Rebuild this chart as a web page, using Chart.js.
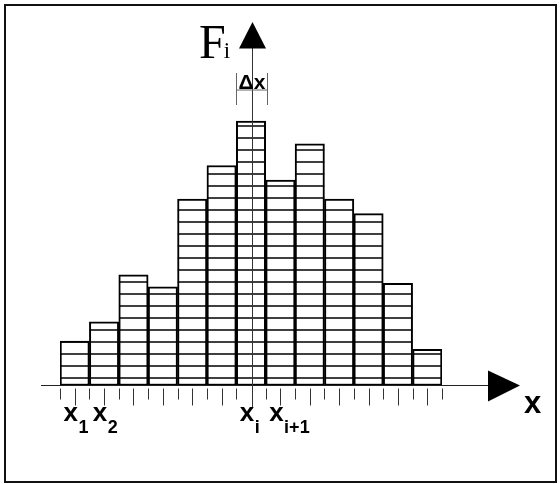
<!DOCTYPE html>
<html>
<head>
<meta charset="utf-8">
<title>Histogram F_i</title>
<script src="https://cdn.jsdelivr.net/npm/chart.js@4/dist/chart.umd.min.js"></script>
<style>
  html, body { margin: 0; padding: 0; background: #fff; }
  canvas { display: block; }
</style>
</head>
<body>
<canvas id="histo" width="560" height="484"></canvas>
<script>
// bins of the histogram, one bar each
var bins = ['b1', 'b2', 'b3', 'b4', 'b5', 'b6', 'b7', 'b8', 'b9', 'b10', 'b11', 'b12', 'b13'];
// bar heights, in units of the little horizontal cells
var counts = [3.7, 5.3, 9.2, 8.2, 15.5, 18.3, 22.0, 17.1, 20.1, 15.5, 14.3, 8.5, 3.0];
// labelled points on the x axis: which bin, main letter, subscript
var tickBins = [0, 1, 6, 7];
var tickMain = ['x', 'x', 'x', 'x'];
var tickSub = ['1', '2', 'i', 'i+1'];
var yTitle = 'F', yTitleSub = 'i';
var xTitle = 'x';
var widthLabel = '\u0394x';
var widthBin = 6;

var Y_MAX = 25;
var CELL_START = 0.6; // first cell line above the base

function arrow(ctx, pts) {
  ctx.beginPath();
  ctx.moveTo(pts[0], pts[1]);
  ctx.lineTo(pts[2], pts[3]);
  ctx.lineTo(pts[4], pts[5]);
  ctx.closePath();
  ctx.fill();
}

var sketch = {
  id: 'sketch',
  afterDatasetsDraw: function (chart) {
    var ctx = chart.ctx;
    var ys = chart.scales.y;
    var meta = chart.getDatasetMeta(0);
    ctx.save();
    ctx.strokeStyle = '#000';
    ctx.lineWidth = 1.6;
    meta.data.forEach(function (bar, i) {
      var half = bar.width / 2;
      ctx.save();
      ctx.beginPath();
      ctx.rect(bar.x - half, bar.y, bar.width, bar.base - bar.y);
      ctx.clip();
      for (var v = CELL_START; v < counts[i]; v += 1) {
        var py = Math.round(ys.getPixelForValue(v));
        ctx.beginPath();
        ctx.moveTo(bar.x - half, py);
        ctx.lineTo(bar.x + half, py);
        ctx.stroke();
      }
      ctx.restore();
    });
    ctx.restore();
  },
  afterDraw: function (chart) {
    var ctx = chart.ctx;
    var xs = chart.scales.x;
    var ys = chart.scales.y;
    var base = ys.getPixelForValue(0);
    var bw = xs.getPixelForValue(1) - xs.getPixelForValue(0);
    var n = bins.length;
    var left = xs.getPixelForValue(0) - bw / 2;

    ctx.save();
    // frame
    ctx.strokeStyle = '#111';
    ctx.lineWidth = 2;
    ctx.strokeRect(5, 5, 551, 477);

    // x axis
    ctx.strokeStyle = '#222';
    ctx.lineWidth = 1.2;
    ctx.beginPath();
    ctx.moveTo(41, base);
    ctx.lineTo(490, base);
    ctx.stroke();
    ctx.fillStyle = '#000';
    arrow(ctx, [488, base - 15, 520, base, 488, base + 16]);

    // ticks: short ones at bin edges, long ones at bin centres
    ctx.strokeStyle = '#333';
    ctx.lineWidth = 1;
    for (var k = 0; k <= n; k++) {
      var ex = Math.round(left + k * bw) + 0.5;
      ctx.beginPath();
      ctx.moveTo(ex, base + 3);
      ctx.lineTo(ex, base + 14);
      ctx.stroke();
      if (k < n && k !== widthBin) {
        var cx = Math.round(xs.getPixelForValue(k)) + 0.5;
        ctx.beginPath();
        ctx.moveTo(cx, base + 3);
        ctx.lineTo(cx, base + 20);
        ctx.stroke();
      }
    }

    // y axis through the centre of the Δx bin
    var ax = Math.round(xs.getPixelForValue(widthBin)) + 1.5;
    ctx.strokeStyle = '#333';
    ctx.beginPath();
    ctx.moveTo(ax, 46);
    ctx.lineTo(ax, base + 23);
    ctx.stroke();
    arrow(ctx, [ax - 13.5, 48.5, ax, 22, ax + 13.5, 48.5]);

    // F_i
    ctx.fillStyle = '#000';
    ctx.textBaseline = 'alphabetic';
    ctx.textAlign = 'left';
    ctx.font = '48px "Liberation Serif", serif';
    ctx.fillText(yTitle, 199, 58);
    var fw = ctx.measureText(yTitle).width;
    ctx.font = '23px "Liberation Serif", serif';
    ctx.fillText(yTitleSub, 199 + fw - 2, 58);

    // Δx bracket
    var bl = Math.round(xs.getPixelForValue(widthBin) - bw / 2) + 0.5;
    var br = Math.round(xs.getPixelForValue(widthBin) + bw / 2) + 1.5;
    ctx.strokeStyle = '#666';
    ctx.lineWidth = 1;
    ctx.beginPath();
    ctx.moveTo(bl, 73); ctx.lineTo(bl, 105);
    ctx.moveTo(br, 73); ctx.lineTo(br, 105);
    ctx.moveTo(bl, 90); ctx.lineTo(br, 90);
    ctx.stroke();
    ctx.font = 'bold 21px "Liberation Sans", Arial, sans-serif';
    ctx.textAlign = 'center';
    ctx.fillText(widthLabel, (bl + br) / 2, 89);

    // x axis labels
    tickBins.forEach(function (b, i) {
      var cx = xs.getPixelForValue(b) - 4;
      ctx.font = 'bold 26px "Liberation Sans", Arial, sans-serif';
      ctx.textAlign = 'center';
      ctx.fillText(tickMain[i], cx, 421);
      var mw = ctx.measureText(tickMain[i]).width;
      ctx.font = 'bold 18px "Liberation Sans", Arial, sans-serif';
      ctx.textAlign = 'left';
      ctx.fillText(tickSub[i], cx + mw / 2 + 0.5, 433);
    });

    // x title
    ctx.font = 'bold 31px "Liberation Sans", Arial, sans-serif';
    ctx.textAlign = 'left';
    ctx.fillText(xTitle, 524, 413);
    ctx.restore();
  }
};

var ctx = document.getElementById('histo').getContext('2d');
var chart = new Chart(ctx, {
  type: 'bar',
  data: {
    labels: bins,
    datasets: [{
      data: counts,
      backgroundColor: '#fff',
      borderColor: '#000',
      borderWidth: 2,
      borderSkipped: false,
      barPercentage: 1,
      categoryPercentage: 1
    }]
  },
  options: {
    responsive: false,
    animation: false,
    devicePixelRatio: 1,
    layout: {
      padding: { left: 60, right: 118, top: 385.5 - Y_MAX * 12.02, bottom: 98.5 }
    },
    plugins: {
      legend: { display: false },
      tooltip: { enabled: false },
      title: { display: false }
    },
    scales: {
      x: { display: false },
      y: { display: false, min: 0, max: Y_MAX }
    }
  },
  plugins: [sketch]
});
</script>
</body>
</html>
